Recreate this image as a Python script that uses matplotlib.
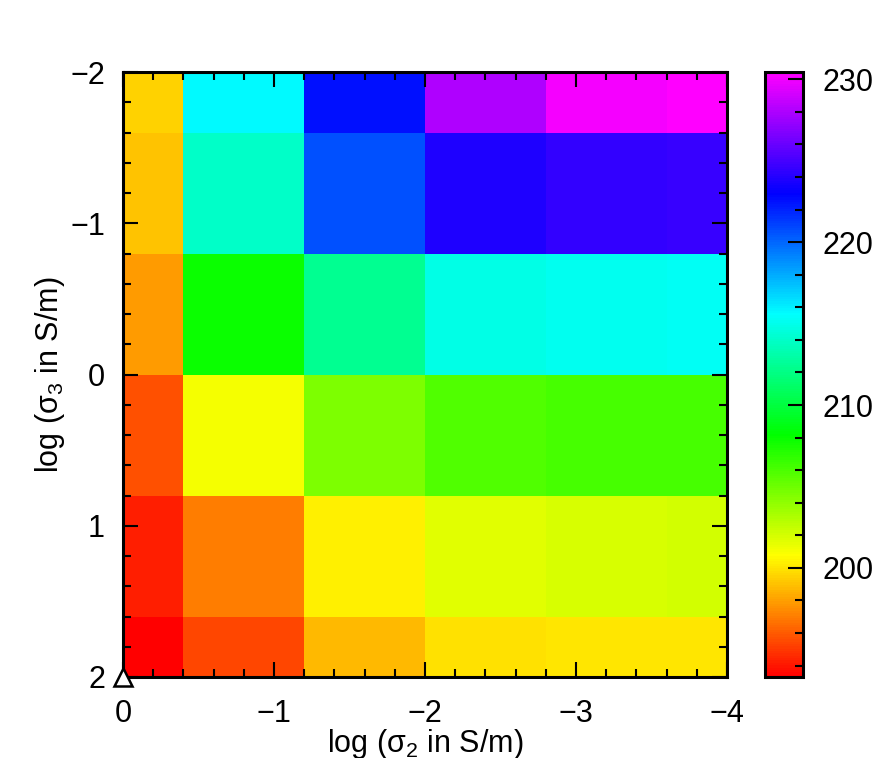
import numpy as np
import matplotlib
matplotlib.use("Agg")
import matplotlib.pyplot as plt
from matplotlib.colors import ListedColormap, hsv_to_rgb
from matplotlib.ticker import MultipleLocator

plt.rcParams["font.family"] = ["Liberation Sans", "DejaVu Sans"]
plt.rcParams["mathtext.default"] = "regular"
plt.rcParams["font.size"] = 22

# cell centres (log sigma2 along x, log sigma3 along y)
log_sigma2 = [0.0, -0.8, -1.6, -2.4, -3.2, -4.0]
log_sigma3 = [-2.0, -1.2, -0.4, 0.4, 1.2, 2.0]

# one row per log_sigma3 value, columns follow log_sigma2
row_m20 = [199.4, 215.7, 222.5, 228.0, 230.1, 230.45]
row_m12 = [199.0, 214.0, 220.7, 223.8, 224.5, 224.6]
row_m04 = [197.8, 207.9, 212.4, 214.9, 215.2, 215.3]
row_p04 = [195.65, 201.0, 204.6, 205.9, 206.1, 206.1]
row_p12 = [194.2, 197.0, 200.3, 201.7, 202.0, 202.1]
row_p20 = [193.3, 195.4, 198.75, 199.9, 200.0, 200.1]
values = np.array([row_m20, row_m12, row_m04, row_p04, row_p12, row_p20])

cbar_ticks = [200, 210, 220, 230]

# rainbow: red -> magenta (hue 0 .. 300 deg)
hue = np.linspace(0, 5 / 6, 256)
hsv = np.stack([hue, np.ones_like(hue), np.ones_like(hue)], axis=1)
cmap = ListedColormap(hsv_to_rgb(hsv))

fig = plt.figure(figsize=(8.76, 7.58), dpi=100)
ax = fig.add_axes([123 / 876, 81 / 758, 604 / 876, 605 / 758])
cax = fig.add_axes([765 / 876, 81 / 758, 38 / 876, 605 / 758])

mesh = ax.pcolormesh(log_sigma2, log_sigma3, values, cmap=cmap, shading="nearest")
ax.set_xlim(0, -4)
ax.set_ylim(2, -2)

ax.xaxis.set_major_locator(MultipleLocator(1))
ax.xaxis.set_minor_locator(MultipleLocator(0.2))
ax.yaxis.set_major_locator(MultipleLocator(1))
ax.yaxis.set_minor_locator(MultipleLocator(0.2))
ax.tick_params(which="both", direction="in", top=True, right=True, width=1.5)
ax.tick_params(which="major", length=11)
ax.tick_params(which="minor", length=6)
ax.tick_params(axis="x", which="major", pad=16)
ax.tick_params(axis="y", which="major", pad=13)
for s in ax.spines.values():
    s.set_linewidth(2.2)

ax.set_xlabel("log (σ$_2$ in S/m)")
ax.set_ylabel("log (σ$_3$ in S/m)", labelpad=2)
ax.xaxis.set_label_coords(0.5, -0.082)

# reference point marker
ax.plot([0], [2], marker="^", markersize=13, markerfacecolor="white",
        markeredgecolor="black", markeredgewidth=1.8, clip_on=False, zorder=5)

cb = fig.colorbar(mesh, cax=cax, ticks=cbar_ticks)
cb.ax.yaxis.set_minor_locator(MultipleLocator(2))
cb.ax.tick_params(which="both", direction="in", width=1.5)
cb.ax.tick_params(which="major", length=11, pad=14)
cb.ax.tick_params(which="minor", length=6)
cb.outline.set_linewidth(2.2)

fig.savefig("out.png", dpi=100)
